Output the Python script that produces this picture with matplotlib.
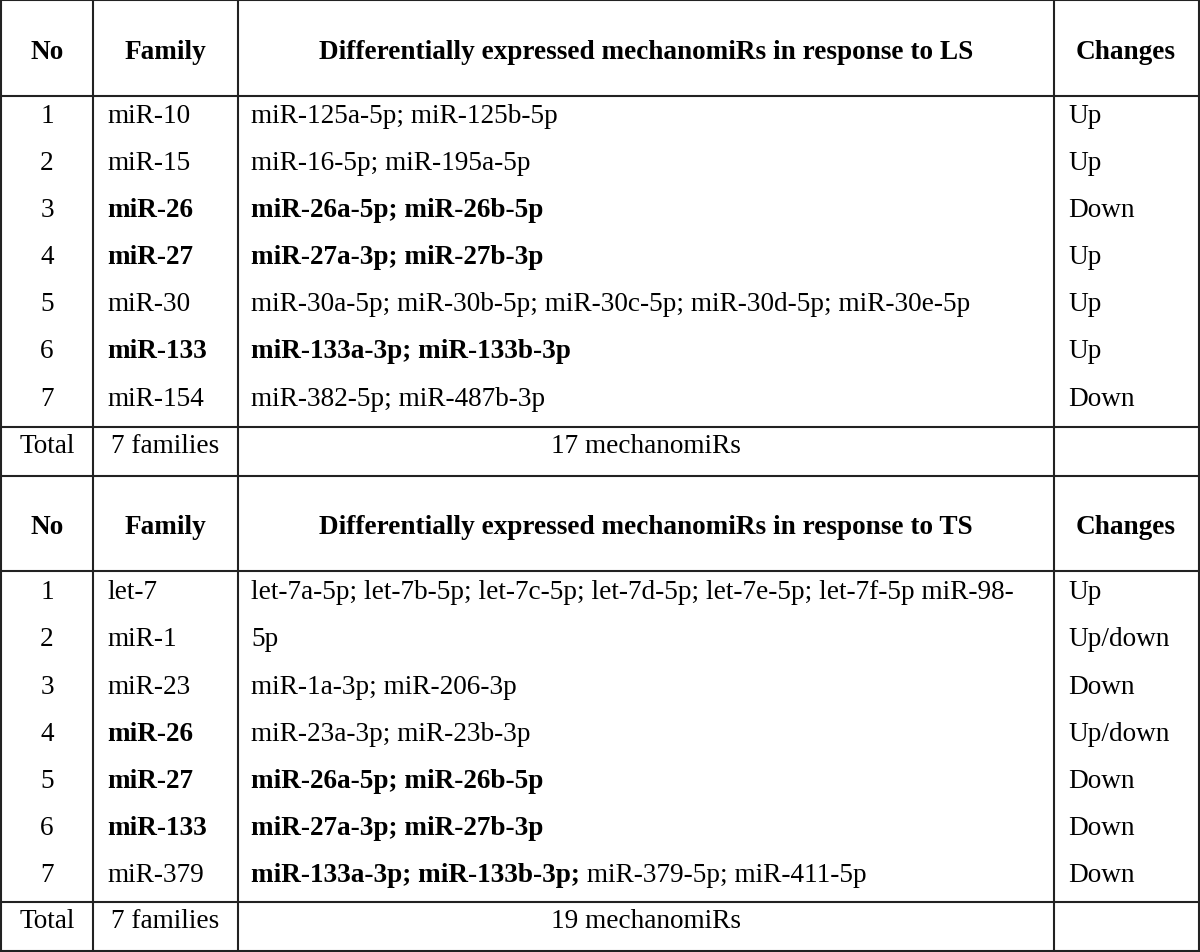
import matplotlib.pyplot as plt

# ---- table content ----
header_ls = ["No", "Family", "Differentially expressed mechanomiRs in response to LS", "Changes"]
header_ts = ["No", "Family", "Differentially expressed mechanomiRs in response to TS", "Changes"]

ls_no = ["1", "2", "3", "4", "5", "6", "7"]
ls_family = ["miR-10", "miR-15", "miR-26", "miR-27", "miR-30", "miR-133", "miR-154"]
ls_mirs = ["miR-125a-5p; miR-125b-5p", "miR-16-5p; miR-195a-5p",
           "miR-26a-5p; miR-26b-5p", "miR-27a-3p; miR-27b-3p",
           "miR-30a-5p; miR-30b-5p; miR-30c-5p; miR-30d-5p; miR-30e-5p",
           "miR-133a-3p; miR-133b-3p", "miR-382-5p; miR-487b-3p"]
ls_changes = ["Up", "Up", "Down", "Up", "Up", "Up", "Down"]
ls_bold = [False, False, True, True, False, True, False]
ls_total = ["Total", "7 families", "17 mechanomiRs", ""]

ts_no = ["1", "2", "3", "4", "5", "6", "7"]
ts_family = ["let-7", "miR-1", "miR-23", "miR-26", "miR-27", "miR-133", "miR-379"]
ts_family_bold = [False, False, False, True, True, True, False]
# (bold part, regular part)
ts_mirs = [("", "let-7a-5p; let-7b-5p; let-7c-5p; let-7d-5p; let-7e-5p; let-7f-5p miR-98-"),
           ("", "5p"),
           ("", "miR-1a-3p; miR-206-3p"),
           ("", "miR-23a-3p; miR-23b-3p"),
           ("miR-26a-5p; miR-26b-5p", ""),
           ("miR-27a-3p; miR-27b-3p", ""),
           ("miR-133a-3p; miR-133b-3p;", " miR-379-5p; miR-411-5p")]
ts_changes = ["Up", "Up/down", "Down", "Up/down", "Down", "Down", "Down"]
ts_total = ["Total", "7 families", "19 mechanomiRs", ""]

# ---- layout (pixel units, y = text baselines) ----
W, H = 1200, 953
col_x = [0.8, 93, 238, 1054, 1198.5]
hlines = [0.8, 97, 427.5, 476.5, 572, 903, 951.5]
ls_header_y, ls_row_y0, ts_header_y, ts_row_y0 = 59, 123, 534, 599.4
row_step = 47.1
ls_total_y, ts_total_y = 453, 928

FONT = "Liberation Serif"
FS = 19.6
LC = "#222222"

fig = plt.figure(figsize=(12, 9.53), dpi=100)
ax = fig.add_axes([0, 0, 1, 1])
ax.set_xlim(0, W)
ax.set_ylim(H, 0)
ax.axis("off")

for y in hlines:
    ax.plot([0, W], [y, y], color=LC, lw=1.5, solid_capstyle="butt")
for x in col_x:
    ax.plot([x, x], [0, H], color=LC, lw=1.5, solid_capstyle="butt")


def txt(x, y, s, ha="left", bold=False):
    return ax.text(x, y, s, ha=ha, va="baseline", fontsize=FS, family=FONT,
                   fontweight="bold" if bold else "normal", color="black")


def header(y, labels):
    txt(47, y, labels[0], ha="center", bold=True)
    txt(165, y, labels[1], ha="center", bold=True)
    txt(646, y, labels[2], ha="center", bold=True)
    txt(1126, y, labels[3], ha="center", bold=True)


def total(y, labels):
    txt(47, y, labels[0], ha="center")
    txt(165, y, labels[1], ha="center")
    txt(646, y, labels[2], ha="center")


header(ls_header_y, header_ls)
for i in range(len(ls_no)):
    y = ls_row_y0 + i * row_step
    txt(47, y, ls_no[i], ha="center")
    txt(107, y, ls_family[i], bold=ls_bold[i])
    txt(251, y, ls_mirs[i], bold=ls_bold[i])
    txt(1068, y, ls_changes[i])
total(ls_total_y, ls_total)

header(ts_header_y, header_ts)
fig.canvas.draw()
renderer = fig.canvas.get_renderer()
for i in range(len(ts_no)):
    y = ts_row_y0 + i * row_step
    txt(47, y, ts_no[i], ha="center")
    txt(107, y, ts_family[i], bold=ts_family_bold[i])
    bold_part, reg_part = ts_mirs[i]
    x = 251
    if bold_part:
        t = txt(x, y, bold_part, bold=True)
        bb = t.get_window_extent(renderer=renderer)
        x = ax.transData.inverted().transform((bb.x1, 0))[0]
    if reg_part:
        txt(x, y, reg_part)
    txt(1068, y, ts_changes[i])
total(ts_total_y, ts_total)

fig.savefig("out.png", dpi=100)
